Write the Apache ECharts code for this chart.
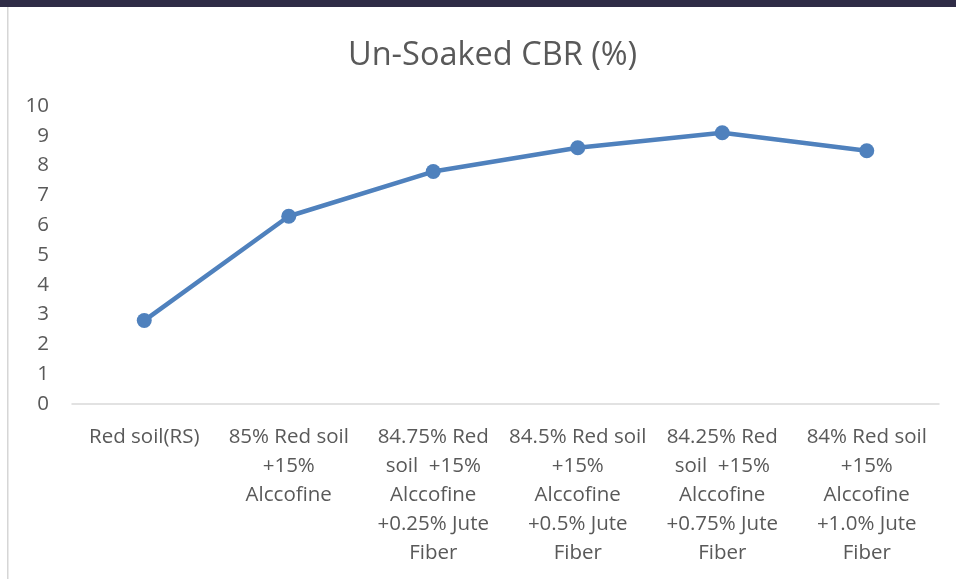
<!DOCTYPE html>
<html>
<head>
<meta charset="utf-8">
<script src="https://cdn.jsdelivr.net/npm/echarts@6/dist/echarts.min.js"></script>
<style>
  html, body { margin: 0; padding: 0; background: #fff; }
  #main { width: 956px; height: 579px; }
</style>
</head>
<body>
<div id="main"></div>
<script>
// data
const categories = [
    'Red soil(RS)',
    '85% Red soil\n+15%\nAlccofine',
    '84.75% Red\nsoil  +15%\nAlccofine\n+0.25% Jute\nFiber',
    '84.5% Red soil\n+15%\nAlccofine\n+0.5% Jute\nFiber',
    '84.25% Red\nsoil  +15%\nAlccofine\n+0.75% Jute\nFiber',
    '84% Red soil\n+15%\nAlccofine\n+1.0% Jute\nFiber'
];
const cbrValues = [2.8, 6.3, 7.8, 8.6, 9.1, 8.5];
const yTicks = { min: 0, max: 10, interval: 1 };

const font = '"Open Sans", "Liberation Sans", sans-serif';
const textColor = '#595959';

let myChart = echarts.init(document.getElementById('main'));
let option = {
    backgroundColor: '#fff',
    animation: false,
    title: {
        text: 'Un-Soaked CBR (%)',
        left: 343,
        top: 34,
        textStyle: {
            fontFamily: font,
            fontSize: 32.5,
            fontWeight: 'normal',
            color: textColor,
        },
    },
    grid: {
        left: 72,
        right: 17,
        top: 106,
        bottom: 175,
    },
    xAxis: {
        type: 'category',
        data: categories,
        boundaryGap: true,
        axisLine: { show: true, lineStyle: { color: '#d9d9d9', width: 1.5 } },
        axisTick: { show: false },
        axisLabel: {
            interval: 0,
            margin: 19,
            fontFamily: font,
            fontSize: 20.5,
            lineHeight: 29,
            color: textColor,
        },
    },
    yAxis: {
        type: 'value',
        min: yTicks.min,
        max: yTicks.max,
        interval: yTicks.interval,
        axisLine: { show: false },
        axisTick: { show: false },
        splitLine: { show: false },
        axisLabel: {
            margin: 23,
            fontFamily: font,
            fontSize: 20.5,
            color: textColor,
        },
    },
    graphic: [
        {
            type: 'rect',
            shape: { x: 0, y: 0, width: 956, height: 7 },
            style: { fill: '#2f2c46' },
        },
        {
            type: 'rect',
            shape: { x: 7, y: 7, width: 1.5, height: 572 },
            style: { fill: '#d6d6d6' },
        },
    ],
    series: [
        {
            name: 'Un-Soaked CBR (%)',
            type: 'line',
            data: cbrValues,
            symbol: 'circle',
            symbolSize: 15,
            itemStyle: { color: '#4f81bd' },
            lineStyle: { color: '#4f81bd', width: 4.5 },
        },
    ],
};
myChart.setOption(option);
window.onresize = function () {
    myChart.resize();
};
</script>
</body>
</html>
